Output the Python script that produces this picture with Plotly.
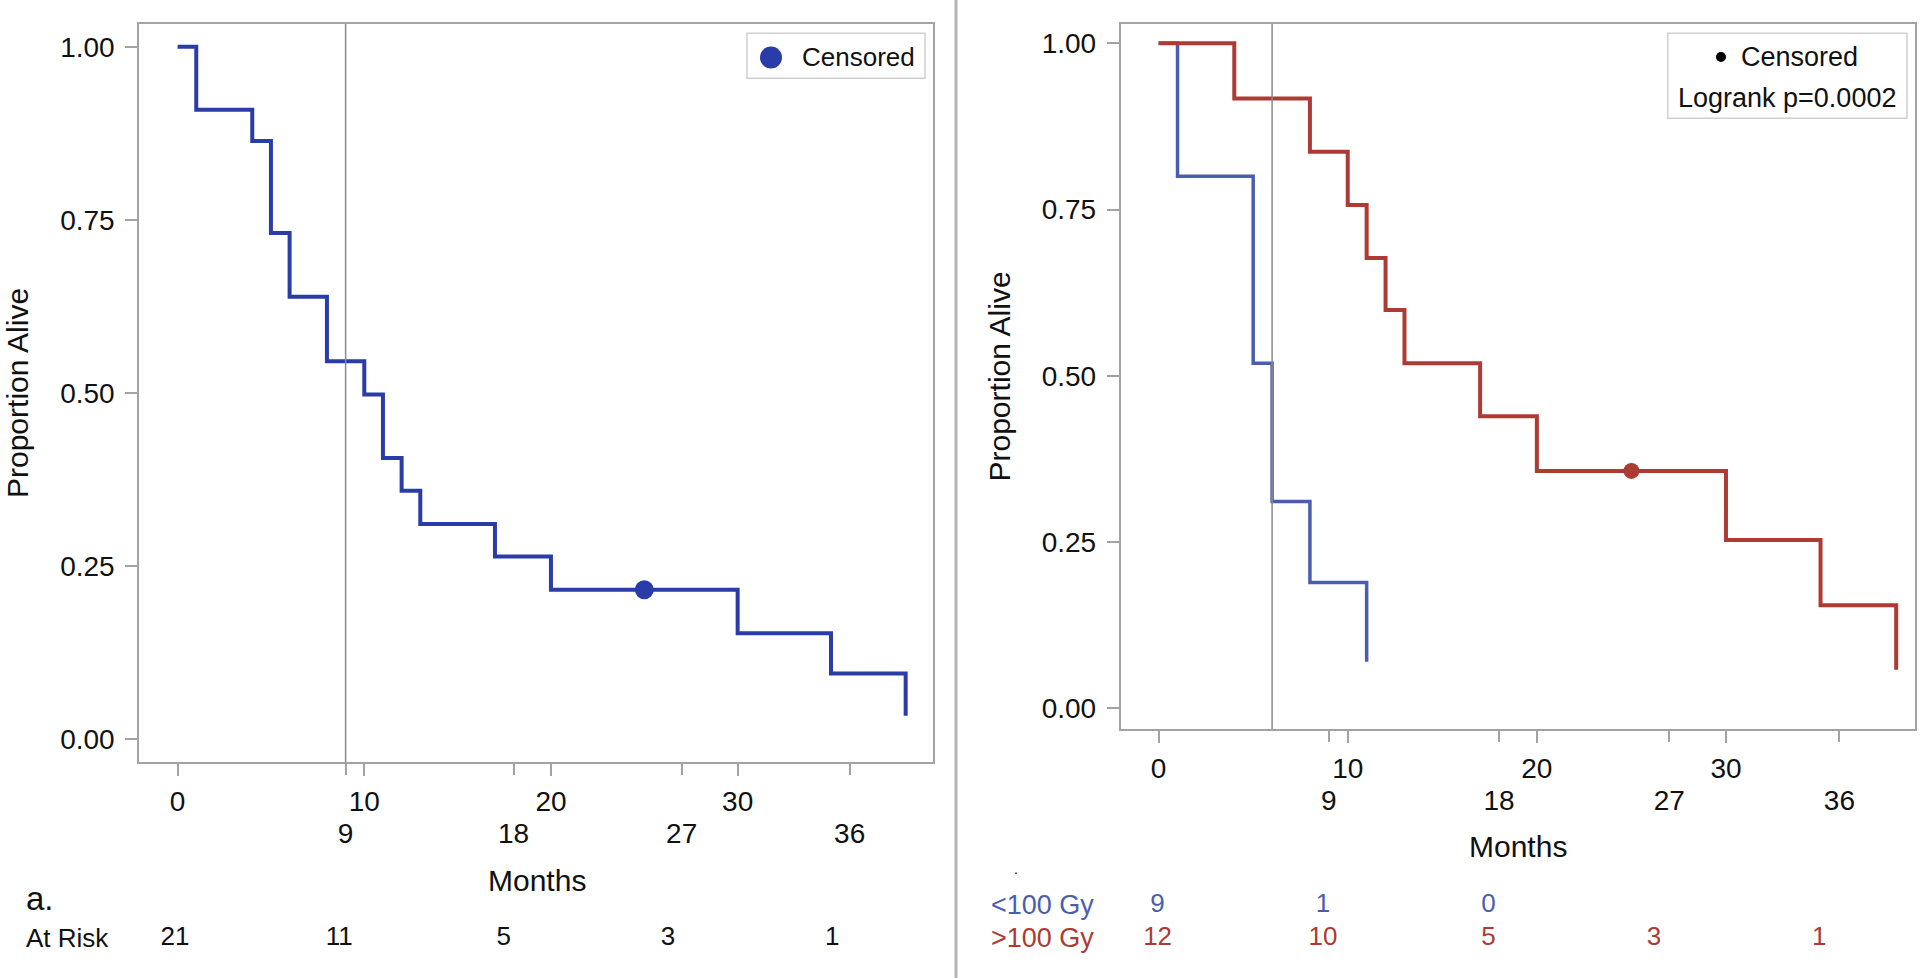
import numpy as np
import plotly.graph_objects as go

# ---------------- data ----------------
all_months = [0, 1, 4, 5, 6, 8, 10, 11, 12, 13, 17, 20, 30, 35, 39]
all_surv = [1.0, 0.909, 0.864, 0.731, 0.639, 0.546, 0.498, 0.406, 0.359, 0.311,
            0.264, 0.216, 0.153, 0.095, 0.034]
all_censor_months = [25]

low_months = [0, 1, 5, 6, 8, 11]
low_surv = [1.0, 0.800, 0.519, 0.311, 0.189, 0.070]
high_months = [0, 4, 8, 10, 11, 12, 13, 17, 20, 30, 35, 39]
high_surv = [1.0, 0.917, 0.837, 0.757, 0.677, 0.599, 0.519, 0.439, 0.357,
             0.253, 0.155, 0.058]
high_censor_months = [25]

landmark_all = 9
landmark_dose = 6

primary_ticks = [0, 10, 20, 30]
secondary_ticks = [9, 18, 27, 36]
y_ticks = [0, 0.25, 0.5, 0.75, 1.0]
y_ticktext = ["0.00", "0.25", "0.50", "0.75", "1.00"]

risk_months = [0, 9, 18, 27, 36]
risk_all = [21, 11, 5, 3, 1]
risk_low = [9, 1, 0]
risk_high = [12, 10, 5, 3, 1]

group_labels = ["&lt;100 Gy", "&gt;100 Gy"]
legend_label = "Censored"
logrank_text = "Logrank p=0.0002"

# ---------------- styling ----------------
W, H = 1920, 978
FONT = "Liberation Sans, Arial, sans-serif"
FRAME = "#a3a3a3"
REF = "#8a8a8a"
BLUE_ALL = "#2a3ca8"
BLUE = "#4a5eae"
RED = "#ad3a33"

left_xdom = [139.3 / W, 933.3 / W]
left_ydom = [1 - 762.3 / H, 1 - 24 / H]
right_xdom = [1120.8 / W, 1914.9 / W]
right_ydom = [1 - 729.3 / H, 1 - 24 / H]

left_xrange = [-2.051, 40.48]
right_xrange = [-2.0, 39.99]
left_yrange = [-0.0332, 1.0328]
right_yrange = [-0.0316, 1.029]


def px(x):
    return x / W


def py(y):
    return 1 - y / H


def step_value(months, surv, t):
    i = int(np.searchsorted(months, t, side="right")) - 1
    return surv[i]


fig = go.Figure()

# landmark reference lines (drawn on the secondary month axes)
fig.add_trace(go.Scatter(x=[landmark_all, landmark_all], y=left_yrange, mode="lines",
                         line=dict(color=REF, width=1.5), xaxis="x2", yaxis="y",
                         showlegend=False, hoverinfo="skip"))
fig.add_trace(go.Scatter(x=[landmark_dose, landmark_dose], y=right_yrange, mode="lines",
                         line=dict(color=REF, width=1.5), xaxis="x4", yaxis="y3",
                         showlegend=False, hoverinfo="skip"))

# left panel curve
fig.add_trace(go.Scatter(x=all_months, y=all_surv, mode="lines",
                         line=dict(color=BLUE_ALL, width=4, shape="hv"),
                         xaxis="x", yaxis="y", showlegend=False, hoverinfo="skip"))
fig.add_trace(go.Scatter(x=all_censor_months,
                         y=[step_value(all_months, all_surv, t) for t in all_censor_months],
                         mode="markers", marker=dict(color=BLUE_ALL, size=19),
                         xaxis="x", yaxis="y", showlegend=False, hoverinfo="skip"))

# right panel curves
fig.add_trace(go.Scatter(x=low_months, y=low_surv, mode="lines",
                         line=dict(color=BLUE, width=3.5, shape="hv"),
                         xaxis="x3", yaxis="y3", showlegend=False, hoverinfo="skip"))
fig.add_trace(go.Scatter(x=high_months, y=high_surv, mode="lines",
                         line=dict(color=RED, width=4, shape="hv"),
                         xaxis="x3", yaxis="y3", showlegend=False, hoverinfo="skip"))
fig.add_trace(go.Scatter(x=high_censor_months,
                         y=[step_value(high_months, high_surv, t) for t in high_censor_months],
                         mode="markers", marker=dict(color=RED, size=16),
                         xaxis="x3", yaxis="y3", showlegend=False, hoverinfo="skip"))

# at-risk tables
fig.add_trace(go.Scatter(x=risk_months, y=[0] * len(risk_all), text=[str(v) for v in risk_all],
                         mode="text", textfont=dict(family=FONT, size=26, color="#111111"),
                         xaxis="x5", yaxis="y5", showlegend=False, hoverinfo="skip",
                         cliponaxis=False))
fig.add_trace(go.Scatter(x=risk_months[:len(risk_low)], y=[1] * len(risk_low),
                         text=[str(v) for v in risk_low],
                         mode="text", textfont=dict(family=FONT, size=26, color=BLUE),
                         xaxis="x6", yaxis="y5", showlegend=False, hoverinfo="skip",
                         cliponaxis=False))
fig.add_trace(go.Scatter(x=risk_months, y=[0] * len(risk_high), text=[str(v) for v in risk_high],
                         mode="text", textfont=dict(family=FONT, size=26, color=RED),
                         xaxis="x6", yaxis="y5", showlegend=False, hoverinfo="skip",
                         cliponaxis=False))

tickfont = dict(family=FONT, size=28, color="#111111")
common_x = dict(showgrid=False, zeroline=False, ticks="outside", ticklen=12,
                tickwidth=1.5, tickcolor=FRAME, tickfont=tickfont)

fig.update_layout(
    width=W, height=H, margin=dict(l=0, r=0, t=0, b=0), autosize=False,
    paper_bgcolor="white", plot_bgcolor="rgba(0,0,0,0)",
    xaxis=dict(domain=left_xdom, range=left_xrange, anchor="y", tickvals=primary_ticks,
               showline=True, mirror=True, linecolor=FRAME, linewidth=2,
               ticklabelstandoff=1, **common_x),
    xaxis2=dict(domain=left_xdom, range=left_xrange, anchor="y", overlaying="x", side="bottom",
                tickvals=secondary_ticks, showline=False, ticklabelstandoff=34, **common_x),
    yaxis=dict(domain=left_ydom, range=left_yrange, anchor="x", tickvals=y_ticks,
               ticktext=y_ticktext, showline=True, mirror=True, linecolor=FRAME, linewidth=2,
               ticklabelstandoff=5, **common_x),
    xaxis3=dict(domain=right_xdom, range=right_xrange, anchor="y3", tickvals=primary_ticks,
                showline=True, mirror=True, linecolor=FRAME, linewidth=2,
                ticklabelstandoff=1, **common_x),
    xaxis4=dict(domain=right_xdom, range=right_xrange, anchor="y3", overlaying="x3",
                side="bottom", tickvals=secondary_ticks, showline=False,
                ticklabelstandoff=34, **common_x),
    yaxis3=dict(domain=right_ydom, range=right_yrange, anchor="x3", tickvals=y_ticks,
                ticktext=y_ticktext, showline=True, mirror=True, linecolor=FRAME, linewidth=2,
                ticklabelstandoff=5, **common_x),
    xaxis5=dict(domain=left_xdom, range=[-1.955, 41.53], anchor="y5", visible=False),
    xaxis6=dict(domain=right_xdom, range=[-2.002, 41.20], anchor="y5", visible=False),
    yaxis5=dict(domain=[0, py(850)], range=[-1.192, 2.652], anchor="x5", visible=False),
)

# panel separator
fig.add_shape(type="line", xref="paper", yref="paper", x0=px(956), x1=px(956), y0=0, y1=1,
              line=dict(color="#b4b4b4", width=3))

# legends (drawn boxes)
fig.add_shape(type="rect", xref="paper", yref="paper", x0=px(747), x1=px(925),
              y0=py(78.3), y1=py(33.3), line=dict(color="#cfcfcf", width=1.5),
              fillcolor="white")
fig.add_shape(type="circle", xref="paper", yref="paper", x0=px(760), x1=px(782),
              y0=py(68.5), y1=py(46.5), line=dict(color=BLUE_ALL, width=0), fillcolor=BLUE_ALL)
fig.add_shape(type="rect", xref="paper", yref="paper", x0=px(1667.7), x1=px(1907),
              y0=py(118.3), y1=py(33.3), line=dict(color="#cfcfcf", width=1.5),
              fillcolor="white")
fig.add_shape(type="circle", xref="paper", yref="paper", x0=px(1716), x1=px(1726),
              y0=py(62), y1=py(52), line=dict(color="black", width=0), fillcolor="black")

ann = []


def text(x, y, s, size, color="#111111", xanchor="center", angle=0):
    ann.append(dict(x=px(x), y=py(y), xref="paper", yref="paper", text=s, showarrow=False,
                    xanchor=xanchor, yanchor="middle", textangle=angle,
                    font=dict(family=FONT, size=size, color=color)))


text(800, 57, legend_label, 26, xanchor="left")
text(1738.9, 57, legend_label, 27, xanchor="left")
text(1786.9, 98.3, logrank_text, 27)
text(17, 393, "Proportion Alive", 30, angle=-90)
text(999, 376.5, "Proportion Alive", 30, angle=-90)
text(536.8, 880, "Months", 30)
text(1518, 846.7, "Months", 30)
text(24, 898, "a.", 33, xanchor="left")
text(24, 938.3, "At Risk", 26, xanchor="left")
text(989, 905, group_labels[0], 27, color=BLUE, xanchor="left")
text(989, 938.3, group_labels[1], 27, color=RED, xanchor="left")
text(1015.7, 869, ".", 14)

fig.update_layout(annotations=ann)

fig.write_html("out.html", config={"displayModeBar": False},
               post_script="document.body.style.margin='0px';document.body.style.overflow='hidden';")
